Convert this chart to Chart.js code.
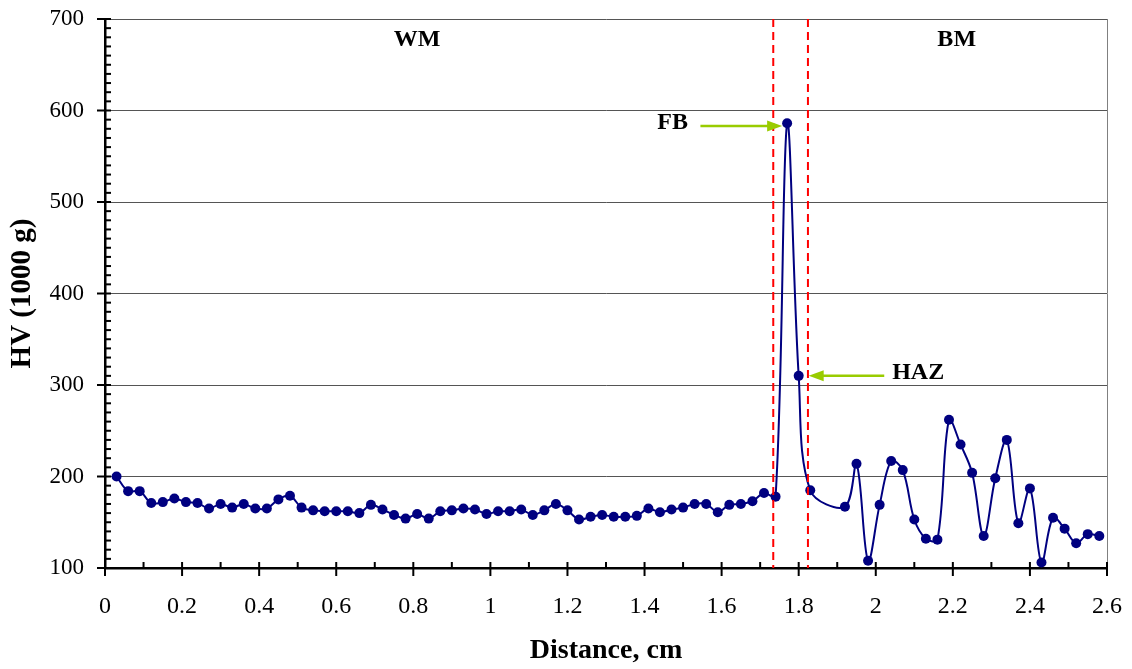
<!DOCTYPE html>
<html><head><meta charset="utf-8">
<script src="https://cdn.jsdelivr.net/npm/chart.js@4.4.0/dist/chart.umd.min.js"></script>
<style>html,body{margin:0;padding:0;background:#fff;}#wrap{width:1132px;height:669px;position:relative}</style>
</head><body><div id="wrap"><canvas id="c" width="1132" height="669"></canvas></div>
<script>
// ---- data ----
const distanceCm = [
  0.03,0.06,0.09,0.12,0.15,0.18,0.21,0.24,0.27,0.30,
  0.33,0.36,0.39,0.42,0.45,0.48,0.51,0.54,0.57,0.60,
  0.63,0.66,0.69,0.72,0.75,0.78,0.81,0.84,0.87,0.90,
  0.93,0.96,0.99,1.02,1.05,1.08,1.11,1.14,1.17,1.20,
  1.23,1.26,1.29,1.32,1.35,1.38,1.41,1.44,1.47,1.50,
  1.53,1.56,1.59,1.62,1.65,1.68,1.71,1.74,1.77,1.80,
  1.83,1.92,1.95,1.98,2.01,2.04,2.07,2.10,2.13,2.16,
  2.19,2.22,2.25,2.28,2.31,2.34,2.37,2.40,2.43,2.46,
  2.49,2.52,2.55,2.58
];
const hardnessHV = [
  200,184,184,171,172,176,172,171,165,170,
  166,170,165,165,175,179,166,163,162,162,
  162,160,169,164,158,154,159,154,162,163,
  165,164,159,162,162,164,158,163,170,163,
  153,156,158,156,156,157,165,161,164,166,
  170,170,161,169,170,173,182,178,586,310,
  185,167,214,108,169,217,207,153,132,131,
  262,235,204,135,198,240,149,187,106,155,
  143,127,137,135
];
const xTickValues = [0,0.2,0.4,0.6,0.8,1,1.2,1.4,1.6,1.8,2,2.2,2.4,2.6];
const yTickValues = [100,200,300,400,500,600,700];
const boundaryLines = [1.734, 1.824];
const zoneLabels = [
  {text:'WM', x:0.81, y:677},
  {text:'BM', x:2.21, y:677}
];
const arrowNotes = [
  {text:'FB',  textX:1.473, fromX:1.545, toX:1.757, y:583},
  {text:'HAZ', textX:2.11,  fromX:2.022, toX:1.826, y:310}
];

Chart.defaults.font.family = "'Liberation Serif','Times New Roman',serif";
Chart.defaults.color = '#000';

const overlay = {
  id: 'overlay',
  afterDatasetsDraw(chart) {
    const {ctx, chartArea: a, scales: {x, y}} = chart;
    ctx.save();
    // right frame line
    ctx.strokeStyle = '#808080'; ctx.lineWidth = 1;
    ctx.beginPath(); ctx.moveTo(a.right + 0.5, a.top); ctx.lineTo(a.right + 0.5, a.bottom); ctx.stroke();
    // red dashed boundaries
    ctx.strokeStyle = '#ff0000'; ctx.lineWidth = 2; ctx.setLineDash([8, 5]);
    boundaryLines.forEach(v => {
      const px = x.getPixelForValue(v);
      ctx.beginPath(); ctx.moveTo(px, a.top); ctx.lineTo(px, a.bottom); ctx.stroke();
    });
    ctx.setLineDash([]);
    // zone labels
    ctx.fillStyle = '#000'; ctx.font = "bold 24px 'Liberation Serif'";
    ctx.textAlign = 'center'; ctx.textBaseline = 'middle';
    zoneLabels.forEach(l => ctx.fillText(l.text, x.getPixelForValue(l.x), y.getPixelForValue(l.y)));
    // arrows with labels
    arrowNotes.forEach(n => {
      const py = y.getPixelForValue(n.y);
      const x0 = x.getPixelForValue(n.fromX), x1 = x.getPixelForValue(n.toX);
      const dir = Math.sign(x1 - x0);
      ctx.strokeStyle = '#99cc00'; ctx.fillStyle = '#99cc00'; ctx.lineWidth = 2.5;
      ctx.beginPath(); ctx.moveTo(x0, py); ctx.lineTo(x1 - dir * 12, py); ctx.stroke();
      ctx.beginPath(); ctx.moveTo(x1, py); ctx.lineTo(x1 - dir * 15, py - 5.5); ctx.lineTo(x1 - dir * 15, py + 5.5); ctx.closePath(); ctx.fill();
      ctx.fillStyle = '#000';
      ctx.fillText(n.text, x.getPixelForValue(n.textX), py - 3);
    });
    ctx.restore();
  },
  afterDraw(chart) {
    const {ctx, chartArea: a, scales: {x, y}} = chart;
    ctx.save(); ctx.strokeStyle = '#000'; ctx.lineWidth = 2;
    // x minor ticks (inside) every 0.1, major crossing every 0.2
    for (let i = 0; i <= 26; i++) {
      const px = x.getPixelForValue(i / 10);
      ctx.beginPath();
      if (i % 2 === 0) { ctx.moveTo(px, a.bottom - 6); ctx.lineTo(px, a.bottom + 8); }
      else { ctx.moveTo(px, a.bottom - 6); ctx.lineTo(px, a.bottom); }
      ctx.stroke();
    }
    // y minor ticks every 10, major crossing every 100
    for (let v = 100; v <= 700; v += 10) {
      const py = y.getPixelForValue(v);
      ctx.beginPath();
      if (v % 100 === 0) { ctx.moveTo(a.left - 8, py); ctx.lineTo(a.left + 6, py); }
      else { ctx.moveTo(a.left, py); ctx.lineTo(a.left + 6, py); }
      ctx.stroke();
    }
    ctx.restore();
  }
};

new Chart(document.getElementById('c'), {
  type: 'line',
  data: {
    datasets: [{
      data: distanceCm.map((d, i) => ({x: d, y: hardnessHV[i]})),
      borderColor: '#000080', backgroundColor: '#000080',
      pointBackgroundColor: '#000080', pointBorderColor: '#000080',
      pointRadius: 5, pointBorderWidth: 0, borderWidth: 2,
      tension: 0.35, fill: false, clip: false
    }]
  },
  options: {
    responsive: false, animation: false, devicePixelRatio: 1,
    layout: {padding: {left: 0, right: 25, top: 19, bottom: 0}},
    plugins: {legend: {display: false}, tooltip: {enabled: false}},
    scales: {
      x: {
        type: 'linear', min: 0, max: 2.6,
        afterFit(s) { s.height = 101; s.paddingLeft = 0; s.paddingRight = 0; },
        afterBuildTicks(s) { s.ticks = xTickValues.map(v => ({value: v})); },
        ticks: {padding: 24, color: '#000', font: {size: 24}, maxRotation: 0, autoSkip: false, callback: v => String(v)},
        grid: {display: false, drawTicks: false},
        border: {display: true, color: '#000', width: 2.5},
        title: {display: true, text: 'Distance, cm', color: '#000', font: {size: 28, weight: 'bold'}, padding: {top: 0, bottom: 1}}
      },
      y: {
        min: 100, max: 700,
        afterFit(s) { s.width = 105; s.paddingTop = 0; s.paddingBottom = 0; },
        afterBuildTicks(s) { s.ticks = yTickValues.map(v => ({value: v})); },
        ticks: {padding: 21, color: '#000', font: {size: 23}},
        grid: {color: '#555555', lineWidth: 1, drawTicks: false},
        border: {display: true, color: '#000', width: 2.5},
        title: {display: true, text: 'HV (1000 g)', color: '#000', font: {size: 29, weight: 'bold'}, padding: {top: 5, bottom: 0}}
      }
    }
  },
  plugins: [overlay]
});
</script>
</body></html>
